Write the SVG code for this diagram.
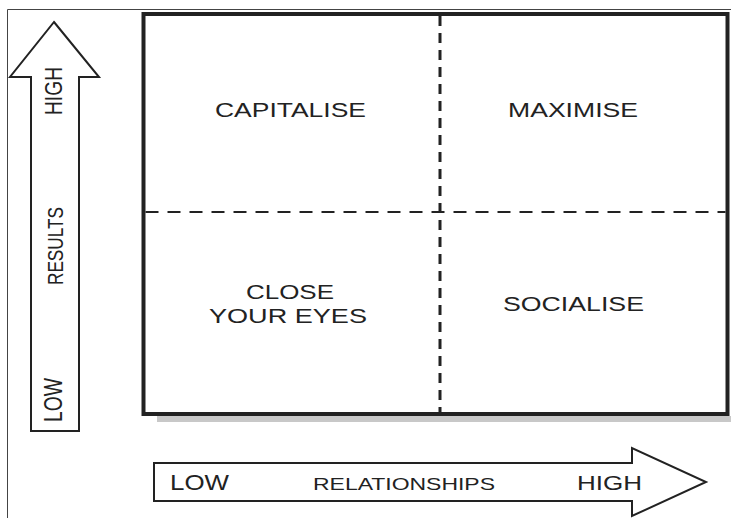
<svg xmlns="http://www.w3.org/2000/svg" width="731" height="518" viewBox="0 0 731 518">
<style>
text{font-family:"Liberation Sans",Arial,sans-serif;fill:#222;lengthAdjust:spacingAndGlyphs}
.arrow{fill:#fff;stroke:#222;stroke-width:2;stroke-linejoin:miter}
.frame{fill:none;stroke:#444;stroke-width:1}
.box{fill:#fff;stroke:#222;stroke-width:4}
.dv{stroke:#222;stroke-width:3;stroke-dasharray:10 7;fill:none}
.dh{stroke:#222;stroke-width:2;stroke-dasharray:13 9;fill:none}
</style>
<rect width="731" height="518" fill="#fff"/>
<path class="frame" d="M7.5,518 V9.5 H731"/>
<g id="matrix">
<rect x="157" y="416" width="574" height="6" fill="#c8c8c8"/>
<rect class="box" x="143.5" y="14" width="584" height="400"/>
</g>
<g id="dividers">
<line class="dv" x1="440" y1="16" x2="440" y2="412"/>
<line class="dh" x1="145.5" y1="212" x2="725.5" y2="212"/>
</g>
<g id="q-capitalise"><text x="215" y="117" font-size="20" textLength="151" lengthAdjust="spacingAndGlyphs">CAPITALISE</text></g>
<g id="q-maximise"><text x="508" y="117" font-size="20" textLength="130" lengthAdjust="spacingAndGlyphs">MAXIMISE</text></g>
<g id="q-close">
<text x="246" y="299" font-size="20" textLength="88" lengthAdjust="spacingAndGlyphs">CLOSE</text>
<text x="209" y="323" font-size="20" textLength="158" lengthAdjust="spacingAndGlyphs">YOUR EYES</text>
</g>
<g id="q-socialise"><text x="503" y="311" font-size="20" textLength="141" lengthAdjust="spacingAndGlyphs">SOCIALISE</text></g>
<g id="axis-results">
<path class="arrow" d="M54,22 L99,77 H79 V431 H31 V77 H10 Z"/>
<text transform="translate(62,115) rotate(-90) scale(1,1.3)" font-size="18" textLength="48" lengthAdjust="spacingAndGlyphs">HIGH</text>
<text transform="translate(63,285) rotate(-90) scale(1,1.3)" font-size="17" textLength="78" lengthAdjust="spacingAndGlyphs">RESULTS</text>
<text transform="translate(62,422) rotate(-90) scale(1,1.3)" font-size="20" textLength="44" lengthAdjust="spacingAndGlyphs">LOW</text>
</g>
<g id="axis-relationships">
<path class="arrow" d="M154,463 H632 V448 L706,482 L632,516 V501 H154 Z"/>
<text x="170" y="490" font-size="22" textLength="59" lengthAdjust="spacingAndGlyphs">LOW</text>
<text x="313" y="490" font-size="17" textLength="182" lengthAdjust="spacingAndGlyphs">RELATIONSHIPS</text>
<text x="577" y="490" font-size="21" textLength="65" lengthAdjust="spacingAndGlyphs">HIGH</text>
</g>
</svg>
